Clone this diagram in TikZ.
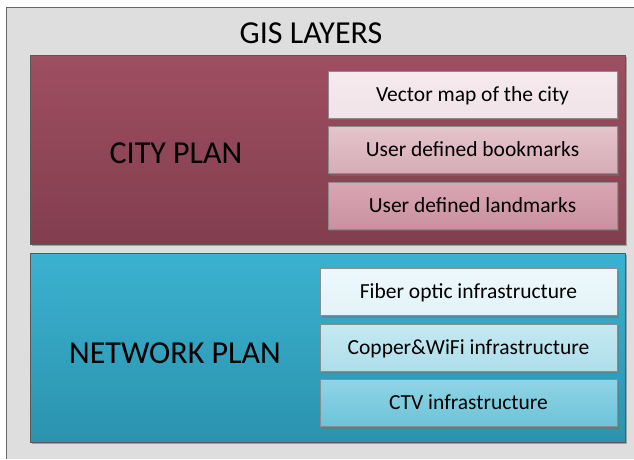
\documentclass[tikz,border=0pt]{standalone}
\usepackage{fontspec}
\setmainfont{Carlito}
\usepackage{tikz}
\usetikzlibrary{positioning, shadows}
\usepackage{xcolor}

\definecolor{panelgray}{HTML}{DEDEDE}
\definecolor{citytop}{HTML}{9E4F61}
\definecolor{citybot}{HTML}{823E4E}
\definecolor{nettop}{HTML}{3AB2D0}
\definecolor{netbot}{HTML}{2B93AE}
\definecolor{vectop}{HTML}{F5EAEE}\definecolor{vecbot}{HTML}{F1E3E8}
\definecolor{booktop}{HTML}{E5C4CC}\definecolor{bookbot}{HTML}{D6ACB7}
\definecolor{landtop}{HTML}{DAA6B3}\definecolor{landbot}{HTML}{C991A0}
\definecolor{fibtop}{HTML}{EDF8FC}\definecolor{fibbot}{HTML}{E3F3F8}
\definecolor{coptop}{HTML}{C5E9F2}\definecolor{copbot}{HTML}{ADDEEA}
\definecolor{ctvtop}{HTML}{90D4E5}\definecolor{ctvbot}{HTML}{6DC3D8}

\tikzset{
  planbox/.style={rectangle, draw=black!65, line width=0.8pt, minimum width=595pt, minimum height=189pt,
    drop shadow={shadow xshift=2pt, shadow yshift=-2pt, fill=black!60}},
  layerbox/.style={rectangle, draw=black!45, line width=0.6pt, minimum height=47pt,
    font=\fontsize{21.5}{24}\selectfont, text height=13.8pt, text depth=0pt,
    drop shadow={shadow xshift=2pt, shadow yshift=-2pt, fill=black!55}},
  bigtext/.style={font=\fontsize{32}{36}\selectfont}
}

\begin{document}
\begin{tikzpicture}[x=1pt, y=-1pt]
  \useasboundingbox (0,0) rectangle (634,459);
  \fill[white] (0,0) rectangle (634,459);
  \fill[panelgray] (6,7) rectangle (634,459);
  \draw[black!60, line width=0.8pt] (6,459) -- (6,7) -- (634,7);

  \node[bigtext] (gis) at (311,33) {GIS LAYERS};

  % city plan
  \node[planbox, top color=citytop, bottom color=citybot] (city) at (327.5,149.5) {};
  \node[bigtext] (citylbl) at (176,153) {CITY PLAN};
  \node[layerbox, minimum width=289pt, top color=vectop, bottom color=vecbot] (vector) at (472.5,94.5) {Vector map of the city};
  \node[layerbox, minimum width=289pt, top color=booktop, bottom color=bookbot] (bookm) at (472.5,150) {User defined bookmarks};
  \node[layerbox, minimum width=289pt, top color=landtop, bottom color=landbot] (landm) at (472.5,205.5) {User defined landmarks};

  % network plan
  \node[planbox, top color=nettop, bottom color=netbot] (net) at (327.5,347.5) {};
  \node[bigtext] (netlbl) at (175,353.5) {NETWORK PLAN};
  \node[layerbox, minimum width=297pt, top color=fibtop, bottom color=fibbot] (fiber) at (468.5,292) {Fiber optic infrastructure};
  \node[layerbox, minimum width=297pt, top color=coptop, bottom color=copbot] (copper) at (468.5,347.5) {Copper\&WiFi infrastructure};
  \node[layerbox, minimum width=297pt, top color=ctvtop, bottom color=ctvbot] (ctv) at (468.5,403) {CTV infrastructure};
\end{tikzpicture}
\end{document}
